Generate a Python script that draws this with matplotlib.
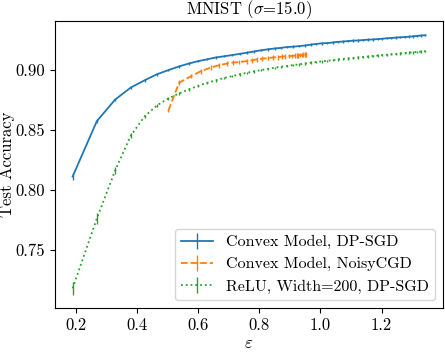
import matplotlib
matplotlib.use("Agg")
import matplotlib.pyplot as plt

plt.rcParams['font.family'] = 'serif'
plt.rcParams['font.serif'] = ['cmr10']
plt.rcParams['mathtext.fontset'] = 'cm'
plt.rcParams['axes.formatter.use_mathtext'] = True
plt.rcParams['font.size'] = 12

eps_sgd = [0.190, 0.269, 0.329, 0.380, 0.425, 0.465, 0.503, 0.537, 0.570, 0.601,
           0.630, 0.658, 0.685, 0.711, 0.736, 0.760, 0.783, 0.806, 0.828, 0.850,
           0.871, 0.891, 0.911, 0.931, 0.950, 0.969, 0.987, 1.005, 1.023, 1.041,
           1.058, 1.075, 1.091, 1.108, 1.124, 1.140, 1.156, 1.171, 1.187, 1.202,
           1.217, 1.231, 1.246, 1.260, 1.275, 1.289, 1.303, 1.316, 1.330, 1.343]

acc_convex_sgd = [0.811, 0.857, 0.875, 0.885, 0.891, 0.896, 0.8995, 0.9025, 0.905, 0.907,
                  0.9085, 0.910, 0.911, 0.912, 0.913, 0.914, 0.915, 0.916, 0.9168, 0.9175,
                  0.918, 0.9187, 0.919, 0.9195, 0.920, 0.9207, 0.9213, 0.9218, 0.922, 0.9225,
                  0.923, 0.9233, 0.9237, 0.924, 0.9242, 0.9245, 0.9248, 0.925, 0.9253, 0.9256,
                  0.926, 0.9262, 0.9265, 0.9268, 0.927, 0.9273, 0.9276, 0.928, 0.9283, 0.9285]
err_convex_sgd = [0.003, 0.0015, 0.001, 0.001, 0.001, 0.001, 0.001, 0.001, 0.001, 0.001,
                  0.001, 0.001, 0.001, 0.001, 0.001, 0.001, 0.001, 0.001, 0.001, 0.001,
                  0.001, 0.001, 0.001, 0.001, 0.001, 0.001, 0.001, 0.001, 0.001, 0.001,
                  0.001, 0.001, 0.001, 0.001, 0.001, 0.001, 0.001, 0.001, 0.001, 0.001,
                  0.001, 0.001, 0.001, 0.001, 0.001, 0.001, 0.001, 0.001, 0.001, 0.001]

acc_relu = [0.718, 0.776, 0.816, 0.845, 0.861, 0.870, 0.876, 0.880, 0.8835, 0.8865,
            0.889, 0.891, 0.893, 0.8945, 0.896, 0.8973, 0.8985, 0.8995, 0.9005, 0.9015,
            0.9023, 0.903, 0.9037, 0.9043, 0.905, 0.9057, 0.9063, 0.9068, 0.9073, 0.9078,
            0.9083, 0.9088, 0.9092, 0.9096, 0.910, 0.9104, 0.9108, 0.9112, 0.9116, 0.912,
            0.9123, 0.9127, 0.913, 0.9134, 0.9137, 0.914, 0.9143, 0.9146, 0.9149, 0.9152]
err_relu = [0.0055, 0.0045, 0.003, 0.002, 0.001, 0.001, 0.001, 0.001, 0.001, 0.001,
            0.001, 0.001, 0.001, 0.001, 0.001, 0.001, 0.001, 0.001, 0.001, 0.001,
            0.001, 0.001, 0.001, 0.001, 0.001, 0.001, 0.001, 0.001, 0.001, 0.001,
            0.001, 0.001, 0.001, 0.001, 0.001, 0.001, 0.001, 0.001, 0.001, 0.001,
            0.001, 0.001, 0.001, 0.001, 0.001, 0.001, 0.001, 0.001, 0.001, 0.001]

eps_cgd = [0.503, 0.538, 0.578, 0.609, 0.641, 0.667, 0.695, 0.713, 0.735, 0.761,
           0.777, 0.794, 0.810, 0.828, 0.845, 0.860, 0.874, 0.885, 0.896, 0.906,
           0.917, 0.923, 0.928, 0.933, 0.939, 0.944, 0.949, 0.953]
acc_cgd = [0.866, 0.889, 0.8946, 0.8986, 0.9015, 0.9035, 0.905, 0.9057, 0.9063, 0.907,
           0.9077, 0.9085, 0.909, 0.9095, 0.910, 0.9103, 0.9107, 0.911, 0.9112, 0.9113,
           0.9115, 0.9117, 0.9118, 0.912, 0.9121, 0.9122, 0.9123, 0.9124]
err_cgd = [0.001, 0.002, 0.002, 0.002, 0.002, 0.002, 0.002, 0.002, 0.002, 0.002,
           0.002, 0.002, 0.002, 0.002, 0.002, 0.002, 0.002, 0.002, 0.002, 0.002,
           0.002, 0.002, 0.002, 0.002, 0.002, 0.002, 0.002, 0.002]

labels = ["Convex Model, DP-SGD", "Convex Model, NoisyCGD", "ReLU, Width=200, DP-SGD"]

fig = plt.figure(figsize=(4.45, 3.53), dpi=100)
ax = fig.add_axes([0.1236, 0.1275, 0.8719, 0.813])

ax.errorbar(eps_sgd, acc_convex_sgd, yerr=err_convex_sgd, color='C0', ls='-',
            lw=1.3, elinewidth=1.0, label=labels[0])
ax.errorbar(eps_cgd, acc_cgd, yerr=err_cgd, color='C1', ls='--',
            lw=1.3, elinewidth=1.0, label=labels[1])
ax.errorbar(eps_sgd, acc_relu, yerr=err_relu, color='C2', ls=':',
            lw=1.3, elinewidth=1.0, label=labels[2])

ax.set_xticks([0.2, 0.4, 0.6, 0.8, 1.0, 1.2])
ax.set_xticklabels(['0.2', '0.4', '0.6', '0.8', '1.0', '1.2'])
ax.set_yticks([0.75, 0.80, 0.85, 0.90])
ax.set_yticklabels(['0.75', '0.80', '0.85', '0.90'])
ax.tick_params(labelsize=12)
ax.set_xlabel(r'$\varepsilon$', labelpad=2)
ax.set_ylabel('Test Accuracy', fontsize=12)
ax.yaxis.set_label_coords(-0.103, 0.5)
ax.set_title(r'MNIST ($\sigma$=15.0)', fontsize=12, pad=3.5)
ax.legend(loc='lower right', fontsize=11.5)

fig.savefig('out.png', dpi=100)
